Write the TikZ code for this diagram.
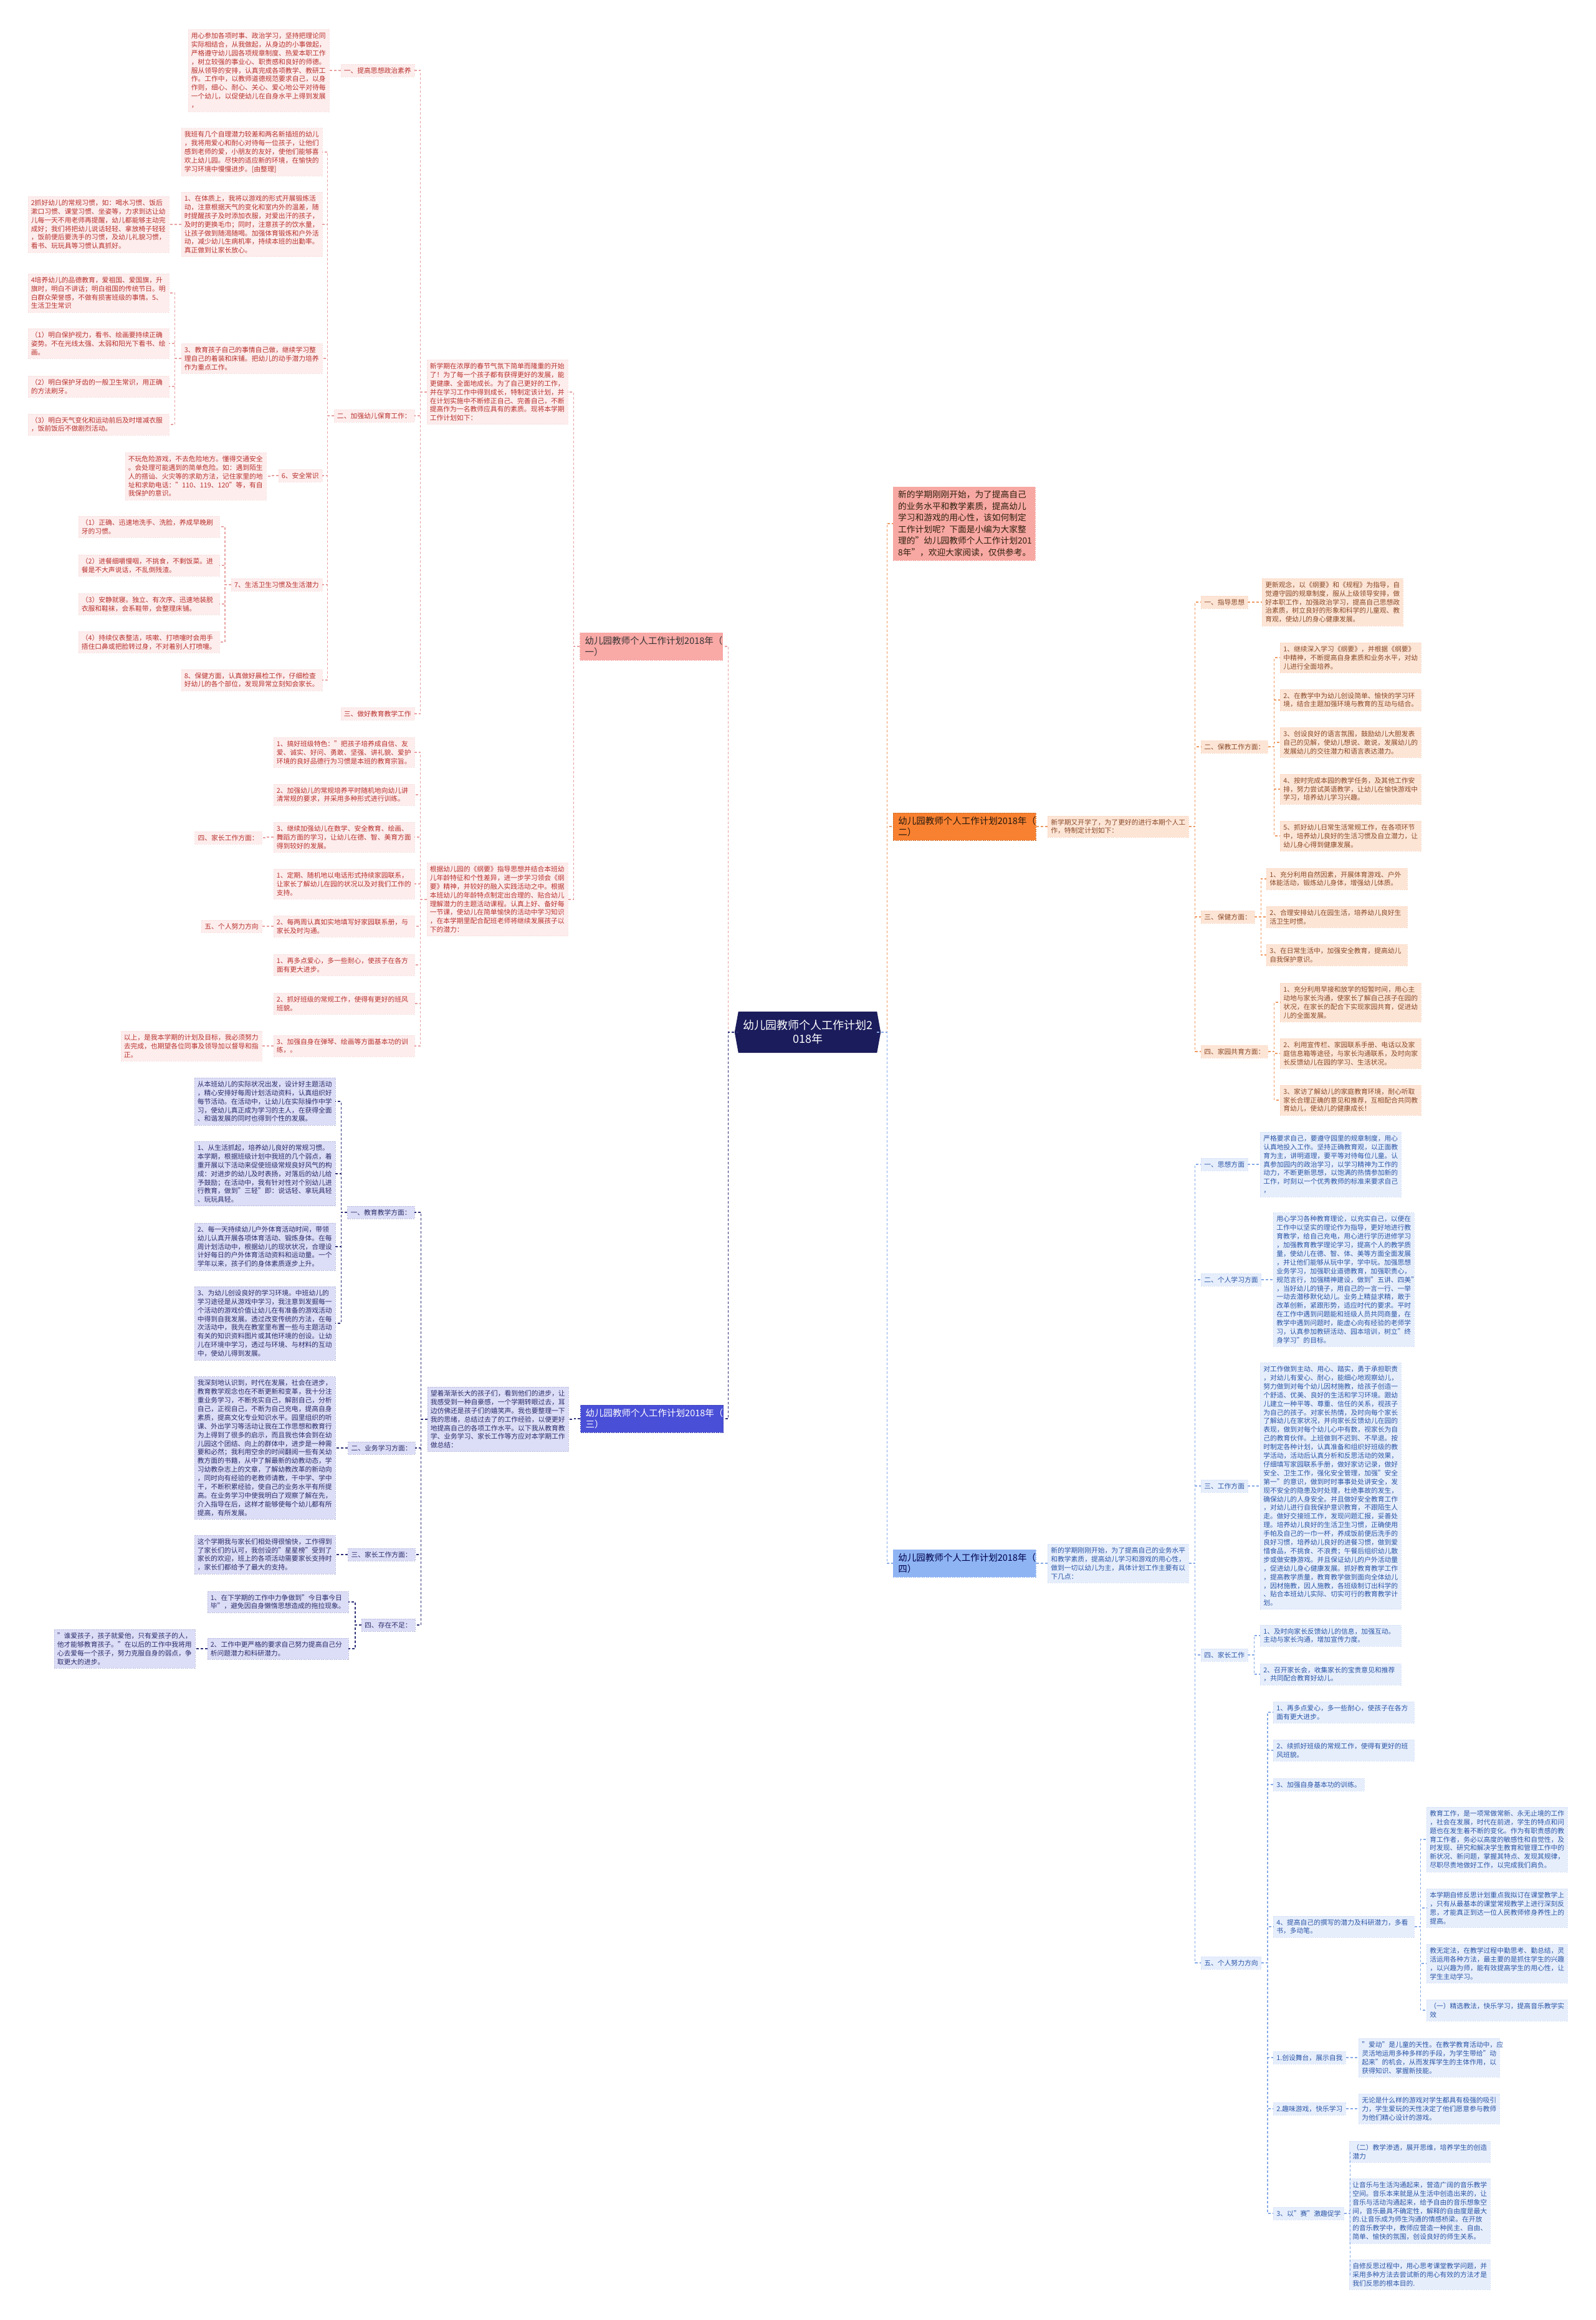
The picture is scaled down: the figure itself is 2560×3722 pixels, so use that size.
\documentclass[tikz,border=0pt]{standalone}
\usepackage{fontspec}
\setmainfont{Noto Sans CJK SC}
\usetikzlibrary{backgrounds}
\definecolor{ink}{HTML}{1B1C5C}
\definecolor{rosehead}{HTML}{F9A9A6}
\definecolor{rosefill}{HTML}{FDEDED}
\definecolor{rosetext}{HTML}{B8322E}
\definecolor{roseline}{HTML}{E9A1A1}
\definecolor{salmon}{HTML}{F8A8A2}
\definecolor{orangehead}{HTML}{F88131}
\definecolor{peach}{HTML}{FDE5D6}
\definecolor{peachtext}{HTML}{8A4A28}
\definecolor{orangeline}{HTML}{EE9A62}
\definecolor{violethead}{HTML}{4A4FD8}
\definecolor{lavender}{HTML}{DCDDF6}
\definecolor{violettext}{HTML}{2B2D6B}
\definecolor{violetline}{HTML}{2E3178}
\definecolor{skyhead}{HTML}{8EB4F4}
\definecolor{skyfill}{HTML}{E6EEFC}
\definecolor{skytext}{HTML}{2C56A6}
\definecolor{skyline}{HTML}{86A9E6}
\tikzset{
 leaf/.style={inner xsep=5pt,inner ysep=5pt,align=left,font=\fontsize{10.8}{13.9}\selectfont,line width=0.5pt,dash pattern=on 2pt off 1.5pt},
 wide/.style={text width=216pt},
 leafR/.style={leaf,fill=rosefill,draw=rosefill!80!roseline,text=rosetext,anchor=east},
 leafO/.style={leaf,fill=peach,draw=peach!80!orangeline,text=peachtext,anchor=west},
 leafV/.style={leaf,fill=lavender,draw=lavender!80!violetline,text=violettext,anchor=east},
 leafS/.style={leaf,fill=skyfill,draw=skyfill!80!skyline,text=skytext,anchor=west},
 head/.style={inner xsep=8pt,inner ysep=6pt,align=left,text width=213pt,font=\fontsize{14.5}{18}\selectfont,line width=0.6pt,dash pattern=on 2pt off 1.5pt},
 link/.style={line width=1.2pt,dash pattern=on 4pt off 3pt},
 linkR/.style={link,draw=roseline},
 linkO/.style={link,draw=orangeline},
 linkV/.style={link,draw=violetline},
 linkS/.style={link,draw=skyline}
}
\begin{document}
\begin{tikzpicture}[x=1pt,y=-1pt]
\useasboundingbox (0,0) rectangle (2560,3722);
% centre
\node[font=\fontsize{18}{22}\selectfont,text=white,align=center,minimum width=222pt,minimum height=66pt,inner sep=0pt] (cen) at (1296,1656) {幼儿园教师个人工作计划2\\018年};
% branch one (left, top)
\node[head,fill=rosehead,draw=rosehead!80!roseline,text=black!80,anchor=east] (b1) at (1160,1037) {幼儿园教师个人工作计划2018年（\\一）};
\node[leafR,wide] (in1) at (911,629) {新学期在浓厚的春节气氛下简单而隆重的开始\\了！为了每一个孩子都有获得更好的发展，能\\更健康、全面地成长。为了自己更好的工作，\\并在学习工作中得到成长，特制定该计划，并\\在计划实施中不断修正自己、完善自己，不断\\提高作为一名教师应具有的素质。现将本学期\\工作计划如下：};
\node[leafR,wide] (in2) at (911,1443) {根据幼儿园的《纲要》指导思想并结合本班幼\\儿年龄特征和个性差异，进一步学习领会《纲\\要》精神，并较好的融入实践活动之中。根据\\本班幼儿的年龄特点制定出合理的、贴合幼儿\\理解潜力的主题活动课程。认真上好、备好每\\一节课，使幼儿在简单愉快的活动中学习知识\\，在本学期里配合配班老师将继续发展孩子以\\下的潜力：};
\node[leafR] (s11) at (665,113) {一、提高思想政治素养};
\node[leafR,wide] (a11) at (528,113) {用心参加各项时事、政治学习，坚持把理论同\\实际相结合，从我做起，从身边的小事做起，\\严格遵守幼儿园各项规章制度、热爱本职工作\\，树立较强的事业心、职责感和良好的师德。\\服从领导的安排，认真完成各项教学、教研工\\作。工作中，以教师道德规范要求自己，以身\\作则，细心、耐心、关心、爱心地公平对待每\\一个幼儿，以促使幼儿在自身水平上得到发展\\，};
\node[leafR] (s12) at (665,667) {二、加强幼儿保育工作：};
\node[leafR,wide] (a21) at (517,244) {我班有几个自理潜力较差和两名新插班的幼儿\\，我将用爱心和耐心对待每一位孩子，让他们\\感到老师的爱，小朋友的友好，使他们能够喜\\欢上幼儿园。尽快的适应新的环境，在愉快的\\学习环境中慢慢进步。[由整理]};
\node[leafR,wide] (a22) at (517,360) {1、在体质上，我将以游戏的形式开展锻炼活\\动，注意根据天气的变化和室内外的温差，随\\时提醒孩子及时添加衣服，对爱出汗的孩子，\\及时的更换毛巾；同时，注意孩子的饮水量，\\让孩子做到随渴随喝。加强体育锻炼和户外活\\动，减少幼儿生病机率，持续本班的出勤率。\\真正做到让家长放心。};
\node[leafR,wide] (a22a) at (271,360) {2抓好幼儿的常规习惯，如：喝水习惯、饭后\\漱口习惯、课堂习惯、坐姿等，力求到达让幼\\儿每一天不用老师再提醒，幼儿都能够主动完\\成好；我们将把幼儿说话轻轻、拿放椅子轻轻\\，饭前便后要洗手的习惯，及幼儿礼貌习惯，\\看书、玩玩具等习惯认真抓好。};
\node[leafR,wide] (a23) at (517,575) {3、教育孩子自己的事情自己做，继续学习整\\理自己的着装和床铺。把幼儿的动手潜力培养\\作为重点工作。};
\node[leafR,wide] (a23a) at (271,470) {4培养幼儿的品德教育，爱祖国、爱国旗，升\\旗时，明白不讲话；明白祖国的传统节日。明\\白群众荣誉感，不做有损害班级的事情。5、\\生活卫生常识};
\node[leafR,wide] (a23b) at (271,551) {（1）明白保护视力，看书、绘画要持续正确\\姿势。不在光线太强、太弱和阳光下看书、绘\\画。};
\node[leafR,wide] (a23c) at (271,620) {（2）明白保护牙齿的一般卫生常识，用正确\\的方法刷牙。};
\node[leafR,wide] (a23d) at (271,681) {（3）明白天气变化和运动前后及时增减衣服\\，饭前饭后不做剧烈活动。};
\node[leafR] (a24) at (517,763) {6、安全常识};
\node[leafR,wide] (a24a) at (427,764) {不玩危险游戏，不去危险地方。懂得交通安全\\。会处理可能遇到的简单危险。如：遇到陌生\\人的搭讪、火灾等的求助方法，记住家里的地\\址和求助电话："110、119、120"等，有自\\我保护的意识。};
\node[leafR] (a25) at (517,938) {7、生活卫生习惯及生活潜力};
\node[leafR,wide] (a25a) at (352,845) {（1）正确、迅速地洗手、洗脸，养成早晚刷\\牙的习惯。};
\node[leafR,wide] (a25b) at (352,907) {（2）进餐细嚼慢咽，不挑食，不剩饭菜。进\\餐是不大声说话，不乱倒残渣。};
\node[leafR,wide] (a25c) at (352,969) {（3）安静就寝。独立、有次序、迅速地装脱\\衣服和鞋袜，会系鞋带，会整理床铺。};
\node[leafR,wide] (a25d) at (352,1030) {（4）持续仪表整洁，咳嗽、打喷嚏时会用手\\捂住口鼻或把脸转过身，不对着别人打喷嚏。};
\node[leafR,wide] (a26) at (517,1091) {8、保健方面，认真做好晨检工作，仔细检查\\好幼儿的各个部位，发现异常立刻知会家长。};
\node[leafR] (s13) at (665,1145) {三、做好教育教学工作};
\node[leafR,wide] (c1) at (665,1207) {1、搞好班级特色："把孩子培养成自信、友\\爱、诚实、好问、勇敢、坚强、讲礼貌、爱护\\环境的良好品德行为习惯是本班的教育宗旨。};
\node[leafR,wide] (c2) at (665,1275) {2、加强幼儿的常规培养平时随机地向幼儿讲\\清常规的要求，并采用多种形式进行训练。};
\node[leafR,wide] (c3) at (665,1343) {3、继续加强幼儿在数学、安全教育、绘画、\\舞蹈方面的学习，让幼儿在德、智、美育方面\\得到较好的发展。};
\node[leafR] (c3a) at (420,1344) {四、家长工作方面：};
\node[leafR,wide] (c4) at (665,1418) {1、定期、随机地以电话形式持续家园联系，\\让家长了解幼儿在园的状况以及对我们工作的\\支持。};
\node[leafR,wide] (c5) at (665,1486) {2、每两周认真如实地填写好家园联系册，与\\家长及时沟通。};
\node[leafR] (c5a) at (420,1486) {五、个人努力方向};
\node[leafR,wide] (c6) at (665,1548) {1、再多点爱心，多一些耐心，使孩子在各方\\面有更大进步。};
\node[leafR,wide] (c7) at (665,1610) {2、抓好班级的常规工作，使得有更好的班风\\班貌。};
\node[leafR,wide] (c8) at (665,1678) {3、加强自身在弹琴、绘画等方面基本功的训\\练，。};
\node[leafR,wide] (c8a) at (420,1678) {以上，是我本学期的计划及目标，我必须努力\\去完成，也期望各位同事及领导加以督导和指\\正。};
% branch three (left, bottom)
\node[head,fill=violethead,draw=violethead!80!black,text=white,anchor=east] (b3) at (1161,2276) {幼儿园教师个人工作计划2018年（\\三）};
\node[leafV,wide] (in3) at (912,2277) {望着渐渐长大的孩子们，看到他们的进步，让\\我感受到一种自豪感，一个学期转眼过去，耳\\边仿佛还是孩子们的嬉笑声。我也要整理一下\\我的思绪，总结过去了的工作经验，以便更好\\地提高自己的各项工作水平。以下我从教育教\\学、业务学习、家长工作等方应对本学期工作\\做总结：};
\node[leafV] (t1) at (665,1945) {一、教育教学方面：};
\node[leafV,wide] (t11) at (538,1767) {从本班幼儿的实际状况出发，设计好主题活动\\，精心安排好每周计划活动资料，认真组织好\\每节活动。在活动中，让幼儿在实际操作中学\\习，使幼儿真正成为学习的主人，在获得全面\\、和谐发展的同时也得到个性的发展。};
\node[leafV,wide] (t12) at (538,1883) {1、从生活抓起，培养幼儿良好的常规习惯。\\本学期，根据班级计划中我班的几个弱点，着\\重开展以下活动来促使班级常规良好风气的构\\成：对进步的幼儿及时表扬，对落后的幼儿给\\予鼓励；在活动中，我有针对性对个别幼儿进\\行教育，做到"三轻"即：说话轻、拿玩具轻\\、玩玩具轻。};
\node[leafV,wide] (t13) at (538,2000) {2、每一天持续幼儿户外体育活动时间，带领\\幼儿认真开展各项体育活动、锻炼身体。在每\\周计划活动中，根据幼儿的现状状况，合理设\\计好每日的户外体育活动资料和运动量。一个\\学年以来，孩子们的身体素质逐步上升。};
\node[leafV,wide] (t14) at (538,2123) {3、为幼儿创设良好的学习环境。中班幼儿的\\学习途径是从游戏中学习，我注意到发掘每一\\个活动的游戏价值让幼儿在有准备的游戏活动\\中得到自我发展。透过改变传统的方法，在每\\次活动中，我先在教室里布置一些与主题活动\\有关的知识资料图片或其他环境的创设。让幼\\儿在环境中学习，透过与环境、与材料的互动\\中，使幼儿得到发展。};
\node[leafV] (t2) at (666,2323) {二、业务学习方面：};
\node[leafV,wide] (t21) at (538,2323) {我深刻地认识到，时代在发展，社会在进步，\\教育教学观念也在不断更新和变革，我十分注\\重业务学习，不断充实自己，解剖自己，分析\\自己，正视自己，不断为自己充电，提高自身\\素质，提高文化专业知识水平。园里组织的听\\课、外出学习等活动让我在工作思想和教育行\\为上得到了很多的启示，而且我也体会到在幼\\儿园这个团结、向上的群体中，进步是一种需\\要和必然；我利用空余的时间翻阅一些有关幼\\教方面的书籍，从中了解最新的幼教动态，学\\习幼教杂志上的文章，了解幼教改革的新动向\\，同时向有经验的老教师请教，干中学、学中\\干，不断积累经验，使自己的业务水平有所提\\高。在业务学习中使我明白了观察了解在先，\\介入指导在后，这样才能够使每个幼儿都有所\\提高，有所发展。};
\node[leafV] (t3) at (666,2494) {三、家长工作方面：};
\node[leafV,wide] (t31) at (538,2494) {这个学期我与家长们相处得很愉快，工作得到\\了家长们的认可，我创设的"星星榜"受到了\\家长的欢迎，班上的各项活动需要家长支持时\\，家长们都给予了最大的支持。};
\node[leafV] (t4) at (666,2607) {四、存在不足：};
\node[leafV,wide] (t41) at (559,2570) {1、在下学期的工作中力争做到"今日事今日\\毕"，避免因自身懒惰思想造成的拖拉现象。};
\node[leafV,wide] (t42) at (559,2645) {2、工作中更严格的要求自己努力提高自己分\\析问题潜力和科研潜力。};
\node[leafV,wide] (t42a) at (313,2645) {"谁爱孩子，孩子就爱他，只有爱孩子的人，\\他才能够教育孩子。"在以后的工作中我将用\\心去爱每一个孩子，努力克服自身的弱点，争\\取更大的进步。};
% opening note and branch two (right, top)
\node[inner xsep=8pt,inner ysep=6pt,align=left,text width=212pt,font=\fontsize{13.7}{18.6}\selectfont,fill=salmon,draw=salmon!80!roseline,dash pattern=on 2pt off 1.5pt,text=black!75!brown,anchor=west] (intro) at (1433,840) {新的学期刚刚开始，为了提高自己\\的业务水平和教学素质，提高幼儿\\学习和游戏的用心性，该如何制定\\工作计划呢？下面是小编为大家整\\理的"幼儿园教师个人工作计划201\\8年"，欢迎大家阅读，仅供参考。};
\node[head,fill=orangehead,draw=orangehead!80!black,text=black!80!brown,anchor=west] (b2) at (1433,1326) {幼儿园教师个人工作计划2018年（\\二）};
\node[leafO,wide] (in4) at (1681,1326) {新学期又开学了，为了更好的进行本期个人工\\作，特制定计划如下：};
\node[leafO] (u1) at (1927,966) {一、指导思想};
\node[leafO,wide] (u11) at (2025,966) {更新观念，以《纲要》和《规程》为指导，自\\觉遵守园的规章制度，服从上级领导安排，做\\好本职工作，加强政治学习，提高自己思想政\\治素质，树立良好的形象和科学的儿童观、教\\育观，使幼儿的身心健康发展。};
\node[leafO] (u2) at (1927,1198) {二、保教工作方面：};
\node[leafO,wide] (u21) at (2054,1055) {1、继续深入学习《纲要》，并根据《纲要》\\中精神，不断提高自身素质和业务水平，对幼\\儿进行全面培养。};
\node[leafO,wide] (u22) at (2054,1123) {2、在教学中为幼儿创设简单、愉快的学习环\\境，结合主题加强环境与教育的互动与结合。};
\node[leafO,wide] (u23) at (2054,1191) {3、创设良好的语言氛围，鼓励幼儿大胆发表\\自己的见解，使幼儿想说、敢说，发展幼儿的\\发展幼儿的交往潜力和语言表达潜力。};
\node[leafO,wide] (u24) at (2054,1266) {4、按时完成本园的教学任务，及其他工作安\\排，努力尝试英语教学，让幼儿在愉快游戏中\\学习，培养幼儿学习兴趣。};
\node[leafO,wide] (u25) at (2054,1341) {5、抓好幼儿日常生活常规工作，在各项环节\\中，培养幼儿良好的生活习惯及自立潜力，让\\幼儿身心得到健康发展。};
\node[leafO] (u3) at (1927,1471) {三、保健方面：};
\node[leafO,wide] (u31) at (2032,1410) {1、充分利用自然因素，开展体育游戏、户外\\体能活动，锻炼幼儿身体，增强幼儿体质。};
\node[leafO,wide] (u32) at (2032,1471) {2、合理安排幼儿在园生活，培养幼儿良好生\\活卫生时惯。};
\node[leafO,wide] (u33) at (2032,1532) {3、在日常生活中，加强安全教育，提高幼儿\\自我保护意识。};
\node[leafO] (u4) at (1927,1687) {四、家园共育方面：};
\node[leafO,wide] (u41) at (2054,1608) {1、充分利用早接和放学的短暂时间，用心主\\动地与家长沟通，使家长了解自己孩子在园的\\状况，在家长的配合下实现家园共育，促进幼\\儿的全面发展。};
\node[leafO,wide] (u42) at (2054,1690) {2、利用宣传栏、家园联系手册、电话以及家\\庭信息箱等途径，与家长沟通联系，及时向家\\长反馈幼儿在园的学习、生活状况。};
\node[leafO,wide] (u43) at (2054,1765) {3、家访了解幼儿的家庭教育环境，耐心听取\\家长合理正确的意见和推荐，互相配合共同教\\育幼儿，使幼儿的健康成长！};
% branch four (right, bottom)
\node[head,fill=skyhead,draw=skyhead!80!skyline,text=black!70!blue,anchor=west] (b4) at (1433,2508) {幼儿园教师个人工作计划2018年（\\四）};
\node[leafS,wide] (in5) at (1681,2508) {新的学期刚刚开始，为了提高自己的业务水平\\和教学素质，提高幼儿学习和游戏的用心性，\\做到一切以幼儿为主，具体计划工作主要有以\\下几点：};
\node[leafS] (v1) at (1927,1868) {一、思想方面};
\node[leafS,wide] (v11) at (2022,1868) {严格要求自己，要遵守园里的规章制度，用心\\认真地投入工作。坚持正确教育观，以正面教\\育为主，讲明道理，要平等对待每位儿童。认\\真参加园内的政治学习，以学习精神为工作的\\动力，不断更新思想，以饱满的热情参加新的\\工作，时刻以一个优秀教师的标准来要求自己\\，};
\node[leafS] (v2) at (1927,2053) {二、个人学习方面};
\node[leafS,wide] (v21) at (2043,2053) {用心学习各种教育理论，以充实自己，以便在\\工作中以坚实的理论作为指导，更好地进行教\\育教学，给自己充电，用心进行学历进修学习\\，加强教育教学理论学习，提高个人的教学质\\量，使幼儿在德、智、体、美等方面全面发展\\，并让他们能够从玩中学，学中玩。加强思想\\业务学习，加强职业道德教育，加强职责心，\\规范言行，加强精神建设，做到"五讲、四美"\\，当好幼儿的镜子，用自己的一言一行、一举\\一动去潜移默化幼儿。业务上精益求精，敢于\\改革创新，紧跟形势，适应时代的要求。平时\\在工作中遇到问题能和班级人员共同商量，在\\教学中遇到问题时，能虚心向有经验的老师学\\习，认真参加教研活动、园本培训，树立"终\\身学习"的目标。};
\node[leafS] (v3) at (1927,2384) {三、工作方面};
\node[leafS,wide] (v31) at (2022,2384) {对工作做到主动、用心、踏实，勇于承担职责\\，对幼儿有爱心、耐心，能细心地观察幼儿，\\努力做到对每个幼儿因材施教，给孩子创造一\\个舒适、优美、良好的生活和学习环境。跟幼\\儿建立一种平等、尊重、信任的关系，视孩子\\为自己的孩子。对家长热情，及时向每个家长\\了解幼儿在家状况，并向家长反馈幼儿在园的\\表现，做到对每个幼儿心中有数，视家长为自\\己的教育伙伴。上班做到不迟到、不早退。按\\时制定各种计划，认真准备和组织好班级的教\\学活动，活动后认真分析和反思活动的效果，\\仔细填写家园联系手册，做好家访记录，做好\\安全、卫生工作，强化安全管理，加强"安全\\第一"的意识，做到时时事事处处讲安全，发\\现不安全的隐患及时处理，杜绝事故的发生，\\确保幼儿的人身安全。并且做好安全教育工作\\，对幼儿进行自我保护意识教育，不跟陌生人\\走。做好交接班工作，发现问题汇报，妥善处\\理。培养幼儿良好的生活卫生习惯，正确使用\\手帕及自己的一巾一杯，养成饭前便后洗手的\\良好习惯，培养幼儿良好的进餐习惯，做到爱\\惜食品，不挑食、不浪费；午餐后组织幼儿散\\步或做安静游戏。并且保证幼儿的户外活动量\\，促进幼儿身心健康发展。抓好教育教学工作\\，提高教学质量，教育教学做到面向全体幼儿\\，因材施教，因人施教，各班级制订出科学的\\、贴合本班幼儿实际、切实可行的教育教学计\\划。};
\node[leafS] (v4) at (1927,2655) {四、家长工作};
\node[leafS,wide] (v41) at (2022,2624) {1、及时向家长反馈幼儿的信息，加强互动。\\主动与家长沟通，增加宣传力度。};
\node[leafS,wide] (v42) at (2022,2686) {2、召开家长会，收集家长的宝贵意见和推荐\\，共同配合教育好幼儿。};
\node[leafS] (v5) at (1927,3149) {五、个人努力方向};
\node[leafS,wide] (v51) at (2043,2747) {1、再多点爱心，多一些耐心，使孩子在各方\\面有更大进步。};
\node[leafS,wide] (v52) at (2043,2808) {2、续抓好班级的常规工作，使得有更好的班\\风班貌。};
\node[leafS] (v53) at (2043,2863) {3、加强自身基本功的训练。};
\node[leafS,wide] (v54) at (2043,3091) {4、提高自己的撰写的潜力及科研潜力，多看\\书，多动笔。};
\node[leafS,wide] (w1) at (2289,2951) {教育工作，是一项常做常新、永无止境的工作\\，社会在发展，时代在前进，学生的特点和问\\题也在发生着不断的变化。作为有职责感的教\\育工作者，务必以高度的敏感性和自觉性，及\\时发现、研究和解决学生教育和管理工作中的\\新状况、新问题，掌握其特点、发现其规律，\\尽职尽责地做好工作，以完成我们肩负。};
\node[leafS,wide] (w2) at (2289,3061) {本学期自修反思计划重点我拟订在课堂教学上\\，只有从最基本的课堂常规教学上进行深刻反\\思，才能真正到达一位人民教师修身养性上的\\提高。};
\node[leafS,wide] (w3) at (2289,3150) {教无定法，在教学过程中勤思考、勤总结，灵\\活运用各种方法，最主要的是抓住学生的兴趣\\，以兴趣为师，能有效提高学生的用心性，让\\学生主动学习。};
\node[leafS,wide] (w4) at (2289,3225) {（一）精选教法，快乐学习，提高音乐教学实\\效};
\node[leafS] (v55) at (2043,3301) {1.创设舞台，展示自我};
\node[leafS,wide] (v55a) at (2180,3301) {"爱动"是儿童的天性。在教学教育活动中，应\\灵活地运用多种多样的手段，为学生带给"动\\起来"的机会，从而发挥学生的主体作用，以\\获得知识、掌握新技能。};
\node[leafS] (v56) at (2043,3383) {2.趣味游戏，快乐学习};
\node[leafS,wide] (v56a) at (2180,3383) {无论是什么样的游戏对学生都具有极强的吸引\\力，学生爱玩的天性决定了他们愿意参与教师\\为他们精心设计的游戏。};
\node[leafS] (v57) at (2043,3551) {3、以"赛"激趣促学};
\node[leafS,wide] (v57a) at (2165,3452) {（二）教学渗透，展开思维，培养学生的创造\\潜力};
\node[leafS,wide] (v57b) at (2165,3547) {让音乐与生活沟通起来，营造广阔的音乐教学\\空间。音乐本来就是从生活中创造出来的，让\\音乐与活动沟通起来，给予自由的音乐想象空\\间，音乐最具不确定性，解释的自由度是最大\\的.让音乐成为师生沟通的情感桥梁。在开放\\的音乐教学中，教师应营造一种民主、自由、\\简单、愉快的氛围，创设良好的师生关系。};
\node[leafS,wide] (v57c) at (2165,3649) {自修反思过程中，用心思考课堂教学问题，并\\采用多种方法去尝试新的用心有效的方法才是\\我们反思的根本目的.};
% connectors
\draw[linkR] (cen.west) -- ++(-16,0) |- (b1.east);
\draw[linkV] (cen.west) -- ++(-16,0) |- (b3.east);
\draw[linkO] (cen.east) -- ++(16,0) |- (intro.west);
\draw[linkO] (cen.east) -- ++(16,0) |- (b2.west);
\draw[linkS] (cen.east) -- ++(16,0) |- (b4.west);
\foreach \p/\c in {b1/in1,b1/in2,in1/s11,in1/s12,in1/s13,s11/a11,s12/a21,s12/a22,s12/a23,s12/a24,s12/a25,s12/a26,a22/a22a,a23/a23a,a23/a23b,a23/a23c,a23/a23d,a24/a24a,a25/a25a,a25/a25b,a25/a25c,a25/a25d,in2/c1,in2/c2,in2/c3,in2/c4,in2/c5,in2/c6,in2/c7,in2/c8,c3/c3a,c5/c5a,c8/c8a}
 \draw[linkR] (\p.west) -- ++(-10,0) |- (\c.east);
\foreach \p/\c in {b3/in3,in3/t1,in3/t2,in3/t3,in3/t4,t1/t11,t1/t12,t1/t13,t1/t14,t2/t21,t3/t31,t4/t41,t4/t42,t42/t42a}
 \draw[linkV] (\p.west) -- ++(-10,0) |- (\c.east);
\foreach \p/\c in {b2/in4,in4/u1,in4/u2,in4/u3,in4/u4,u1/u11,u2/u21,u2/u22,u2/u23,u2/u24,u2/u25,u3/u31,u3/u32,u3/u33,u4/u41,u4/u42,u4/u43}
 \draw[linkO] (\p.east) -- ++(10,0) |- (\c.west);
\foreach \p/\c in {b4/in5,in5/v1,in5/v2,in5/v3,in5/v4,in5/v5,v1/v11,v2/v21,v3/v31,v4/v41,v4/v42,v5/v51,v5/v52,v5/v53,v5/v54,v5/v55,v5/v56,v5/v57,v54/w1,v54/w2,v54/w3,v54/w4,v55/v55a,v56/v56a,v57/v57a,v57/v57b,v57/v57c}
 \draw[linkS] (\p.east) -- ++(10,0) |- (\c.west);
% page and centre plate
\begin{pgfonlayer}{background}
 \fill[white] (0,0) rectangle (2560,3722);
 \fill[ink] (cen.north west) -- (cen.north east) -- ([xshift=6pt]cen.east) -- (cen.south east) -- (cen.south west) -- ([xshift=-6pt]cen.west) -- cycle;
\end{pgfonlayer}
\end{tikzpicture}
\end{document}
